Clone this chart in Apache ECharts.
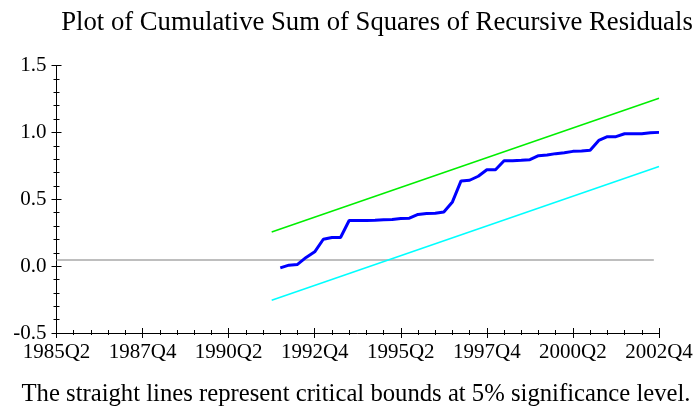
<!DOCTYPE html>
<html>
<head>
<meta charset="utf-8">
<script src="https://cdn.jsdelivr.net/npm/echarts@6/dist/echarts.min.js"></script>
<style>
  html, body { margin: 0; padding: 0; background: #fff; }
  #main { width: 699px; height: 412px; }
</style>
</head>
<body>
<div id="main"></div>
<script>
// quarter index: 0 = 1985Q2 ... 70 = 2002Q4
var xTickLabels = ["1985Q2", "1987Q4", "1990Q2", "1992Q4", "1995Q2", "1997Q4", "2000Q2", "2002Q4"];
var yTickLabels = ["-0.5", "0.0", "0.5", "1.0", "1.5"];

// cumulative sum of squares, from 1991Q4 (index 26) to 2002Q4
var cusumStart = 26;
var cusumSq = [-0.013, 0.007, 0.013, 0.065, 0.107, 0.201, 0.214, 0.214, 0.341, 0.341,
  0.341, 0.343, 0.346, 0.348, 0.356, 0.358, 0.386, 0.393, 0.396, 0.405,
  0.48, 0.637, 0.642, 0.672, 0.72, 0.72, 0.788, 0.788, 0.791, 0.796,
  0.826, 0.831, 0.841, 0.848, 0.858, 0.861, 0.866, 0.94, 0.968, 0.968,
  0.99, 0.99, 0.99, 0.998, 1.0];

// 5% critical bounds (straight lines, end points only)
var boundX = [25, 70];
var upperBound = [0.255, 1.255];
var lowerBound = [-0.255, 0.745];

// grey reference line
var refX = [0, 69.4];
var refY = [0.045, 0.045];

var serif = '"Liberation Serif", "Times New Roman", serif';

var page = {
  init: function () {
    var myChart = echarts.init(document.getElementById("main"), null, { renderer: "canvas" });
    myChart.setOption(page.buildOption());
  },
  pairs: function (xs, ys) {
    var out = [];
    for (var i = 0; i < xs.length; i++) out.push([xs[i], ys[i]]);
    return out;
  },
  buildOption: function () {
    var blue = [];
    for (var i = 0; i < cusumSq.length; i++) {
      blue.push([cusumStart + i, cusumSq[i]]);
    }
    var tickStyle = { color: "#000", width: 1 };
    return {
      animation: false,
      backgroundColor: "#fff",
      title: [{
        text: "Plot of Cumulative Sum of Squares of Recursive Residuals",
        left: 372, top: 4, textAlign: "center",
        textStyle: { fontFamily: serif, fontSize: 26.7, fontWeight: "normal", color: "#000" }
      }, {
        text: "The straight lines represent critical bounds at 5% significance level.",
        left: 351, top: 377, textAlign: "center",
        textStyle: { fontFamily: serif, fontSize: 24.7, fontWeight: "normal", color: "#000" }
      }],
      grid: { left: 56.5, right: 40, top: 65.5, bottom: 79, containLabel: false },
      xAxis: [{
        type: "value", min: 0, max: 70, interval: 10,
        axisLine: { show: true, onZero: false, lineStyle: tickStyle },
        axisTick: { show: true, length: 5, lineStyle: tickStyle },
        minorTick: { show: true, splitNumber: 5, length: 2, lineStyle: tickStyle },
        splitLine: { show: false },
        axisLabel: {
          fontFamily: serif, fontSize: 21, color: "#000", margin: 9,
          showMinLabel: true, showMaxLabel: true,
          formatter: function (v) { return xTickLabels[Math.round(v / 10)]; }
        }
      }, {
        type: "value", min: 0, max: 70, interval: 10, position: "bottom",
        axisLine: { show: false, onZero: false },
        axisTick: { show: true, inside: true, length: 5, lineStyle: tickStyle },
        minorTick: { show: true, splitNumber: 5, length: 3, lineStyle: tickStyle },
        splitLine: { show: false },
        axisLabel: { show: false }
      }],
      yAxis: [{
        type: "value", min: -0.5, max: 1.5, interval: 0.5,
        axisLine: { show: true, onZero: false, lineStyle: tickStyle },
        axisTick: { show: true, length: 5, lineStyle: tickStyle },
        minorTick: { show: true, splitNumber: 5, length: 3, lineStyle: tickStyle },
        splitLine: { show: false },
        axisLabel: {
          fontFamily: serif, fontSize: 21, color: "#000", margin: 10,
          formatter: function (v) { return yTickLabels[Math.round((v + 0.5) / 0.5)]; }
        }
      }, {
        type: "value", min: -0.5, max: 1.5, interval: 0.5, position: "left",
        axisLine: { show: false, onZero: false },
        axisTick: { show: true, inside: true, length: 5, lineStyle: tickStyle },
        minorTick: { show: true, splitNumber: 5, length: 3, lineStyle: tickStyle },
        splitLine: { show: false },
        axisLabel: { show: false }
      }],
      series: [{
        name: "reference", type: "line", symbol: "none",
        data: page.pairs(refX, refY),
        lineStyle: { color: "#a8a8a8", width: 1.5 }
      }, {
        name: "upper", type: "line", symbol: "none",
        data: page.pairs(boundX, upperBound),
        lineStyle: { color: "#00ee00", width: 1.5 }
      }, {
        name: "lower", type: "line", symbol: "none",
        data: page.pairs(boundX, lowerBound),
        lineStyle: { color: "#00ffff", width: 1.5 }
      }, {
        name: "CUSUMSQ", type: "line", symbol: "none",
        data: blue,
        lineStyle: { color: "#0000ff", width: 3 }
      }]
    };
  }
};
page.init();
</script>
</body>
</html>
